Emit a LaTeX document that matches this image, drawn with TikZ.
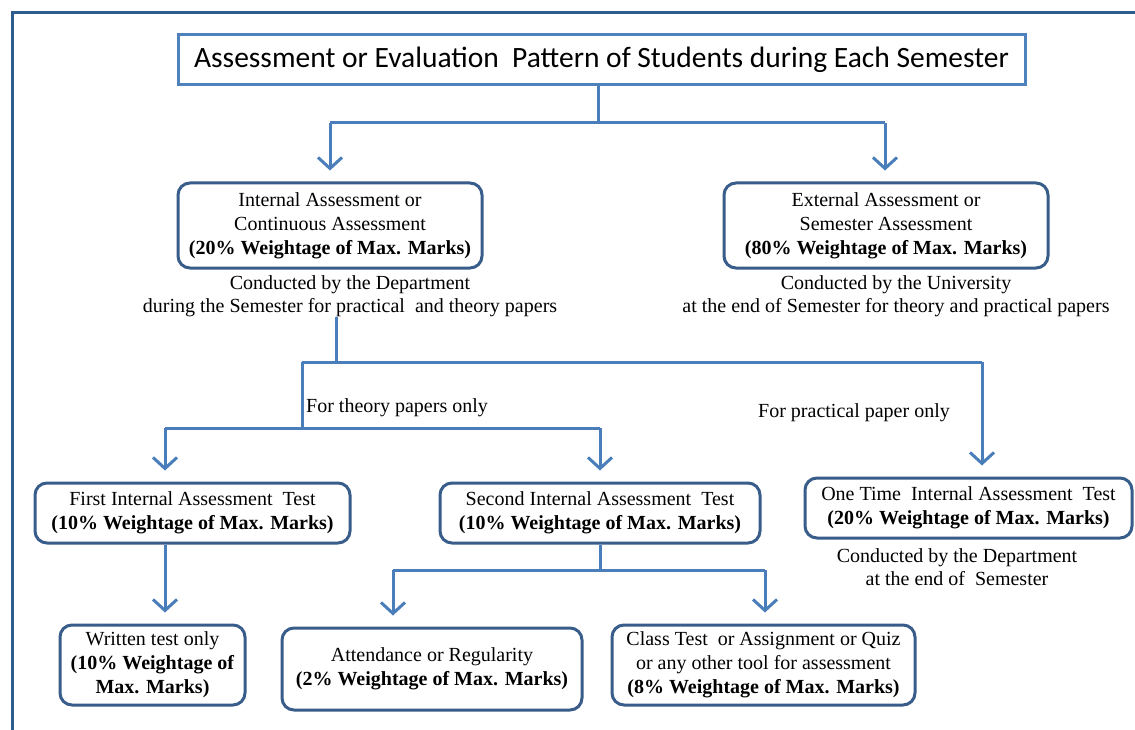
\documentclass[tikz,border=0pt]{standalone}
\usepackage{fontspec}
\setmainfont{Liberation Serif}
\newfontfamily\titlefont{Carlito}
\usetikzlibrary{arrows.meta}
\definecolor{framec}{HTML}{2F5C8F}
\definecolor{titlec}{HTML}{4F81BD}
\definecolor{boxc}{HTML}{385D8A}
\definecolor{linec}{HTML}{4A7EBB}
\begin{document}
\begin{tikzpicture}[x=1pt,y=-1pt,
  box/.style={draw=boxc, line width=3pt, rounded corners=12pt, align=center, inner sep=0pt, font=\fontsize{20}{24}\selectfont},
  note/.style={align=center, inner sep=0pt, font=\fontsize{20}{23.5}\selectfont},
  conn/.style={draw=linec, line width=3pt},
  arr/.style={conn, -{Straight Barb[length=11pt,width=24pt]}, shorten >=11pt}]
\useasboundingbox (0,0) rectangle (1135,730);
\fill[white] (0,0) rectangle (1135,730);
\draw[framec, line width=3pt] (1140,13) -- (12,13) -- (12,735);

\node[draw=titlec, line width=3pt, minimum width=847pt, minimum height=50pt, inner sep=0pt,
  font=\titlefont\fontsize{29.5}{32}\selectfont] (title) at (601.5,60)
  {Assessment or Evaluation\ \ Pattern of Students during Each Semester};

\node[box, minimum width=304pt, minimum height=85pt] (int) at (330,225.5)
  {Internal Assessment or\\Continuous Assessment\\\textbf{(20\% Weightage of Max. Marks)}};
\node[box, minimum width=324pt, minimum height=85pt] (ext) at (886,225.5)
  {External Assessment or\\Semester Assessment\\\textbf{(80\% Weightage of Max. Marks)}};
\node[note] (intnote) at (350,296) {Conducted by the Department\\during the Semester for practical\ \ and theory papers};
\node[note] (extnote) at (896,296) {Conducted by the University\\at the end of Semester for theory and practical papers};

\node[box, minimum width=315pt, minimum height=60pt] (first) at (192.5,513)
  {First Internal Assessment\ \ Test\\\textbf{(10\% Weightage of Max. Marks)}};
\node[box, minimum width=320pt, minimum height=60pt] (second) at (600,513)
  {Second Internal Assessment\ \ Test\\\textbf{(10\% Weightage of Max. Marks)}};
\node[box, minimum width=327pt, minimum height=60pt] (one) at (968.5,508)
  {One Time\ \ Internal Assessment\ \ Test\\\textbf{(20\% Weightage of Max. Marks)}};
\node[note] (onenote) at (957,567) {Conducted by the Department\\at the end of\ \ Semester};

\node[box, minimum width=185pt, minimum height=80pt] (written) at (152.5,665)
  {Written test only\\\textbf{(10\% Weightage of}\\\textbf{Max. Marks)}};
\node[box, minimum width=300pt, minimum height=82pt] (attend) at (432,669)
  {Attendance or Regularity\\\textbf{(2\% Weightage of Max. Marks)}};
\node[box, minimum width=303pt, minimum height=80pt] (class) at (763.5,665)
  {Class Test\ \ or Assignment or Quiz\\or any other tool for assessment\\\textbf{(8\% Weightage of Max. Marks)}};

\node[note, anchor=west] (theorylbl) at (306,408) {For theory papers\ only};
\node[note, anchor=west] (praclbl) at (758,413) {For practical paper only};

% level 1
\coordinate (j1) at (598,123);
\coordinate (j1l) at (330,123);
\coordinate (j1r) at (885,123);
\draw[conn] (title.south -| j1) -- (j1);
\draw[conn] (j1l) -- (j1r);
\draw[arr] (j1l) -- (int.north -| j1l);
\draw[arr] (j1r) -- (ext.north -| j1r);

% level 2
\coordinate (j2) at (336,362);
\coordinate (j2l) at (302,362);
\coordinate (j2r) at (982,362);
\draw[conn] (intnote.south -| j2) -- (j2);
\draw[conn] (j2l) -- (j2r);
\draw[arr] (j2r) -- (one.north -| j2r);
\coordinate (j3) at (302,428);
\coordinate (j3l) at (165,428);
\coordinate (j3r) at (600,428);
\draw[conn] (j2l) -- (j3);
\draw[conn] (j3l) -- (j3r);
\draw[arr] (j3l) -- (first.north -| j3l);
\draw[arr] (j3r) -- (second.north -| j3r);

% level 3
\coordinate (j4) at (165,543);
\draw[arr] (first.south -| j4) -- (written.north -| j4);
\coordinate (j5) at (600,570);
\coordinate (j5l) at (393,570);
\coordinate (j5r) at (765,570);
\draw[conn] (second.south -| j5) -- (j5);
\draw[conn] (j5l) -- (j5r);
\draw[arr] (j5l) -- (attend.north -| j5l);
\draw[arr] (j5r) -- (class.north -| j5r);
\end{tikzpicture}
\end{document}
